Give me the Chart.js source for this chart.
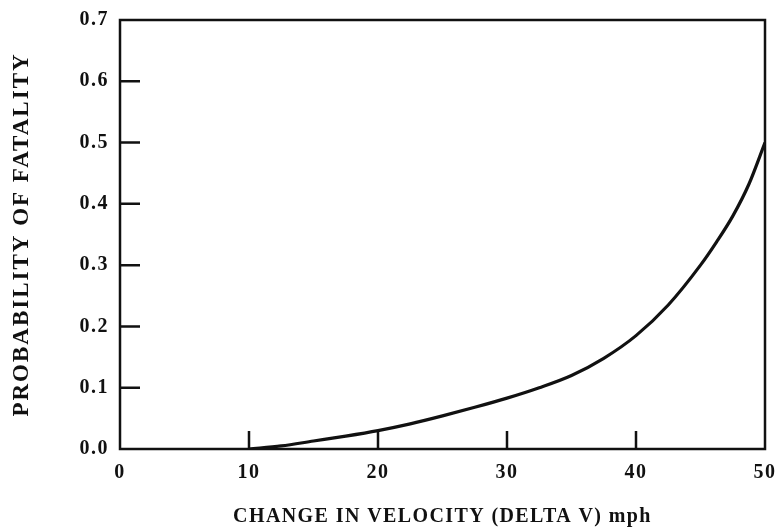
<!DOCTYPE html>
<html>
<head>
<meta charset="utf-8">
<script src="https://cdn.jsdelivr.net/npm/chart.js@4/dist/chart.umd.min.js"></script>
<style>
  html, body { margin: 0; padding: 0; background: #ffffff; }
  #wrap { width: 778px; height: 531px; }
</style>
</head>
<body>
<div id="wrap"><canvas id="c" width="778" height="531"></canvas></div>
<script>
// Change in velocity (delta V, mph) and probability of fatality
const deltaV = [10, 12.5, 15, 17.5, 20, 22.5, 25, 27.5, 30, 32.5, 35, 37.5, 40, 42.5, 45, 46.25, 47.5, 48.75, 50];
const fatality = [0.0, 0.005, 0.013, 0.021, 0.03, 0.041, 0.054, 0.068, 0.083, 0.1, 0.12, 0.148, 0.185, 0.235, 0.30, 0.338, 0.38, 0.432, 0.5];

const xTicks = [0, 10, 20, 30, 40, 50];
const yTicks = [0.0, 0.1, 0.2, 0.3, 0.4, 0.5, 0.6, 0.7];
const xInnerTicks = [10, 20, 30, 40];
const yInnerTicks = [0.1, 0.2, 0.3, 0.4, 0.5, 0.6];

const xTitle = 'CHANGE IN VELOCITY (DELTA V) mph';
const yTitle = 'PROBABILITY OF FATALITY';

const serif = "'Liberation Serif', 'DejaVu Serif', serif";
const labelFont = { family: serif, weight: 'bold', size: 20 };
const xTitleFont = { family: serif, weight: 'bold', size: 20 };
const yTitleFont = { family: serif, weight: 'bold', size: 23 };

const canvas = document.getElementById('c');
const ctx = canvas.getContext('2d');
// spaced-out typewriter-style lettering; the axis titles are spread a bit wider
const titleSpacing = { [xTitle]: '1.4px', [yTitle]: '2px' };
const baseFillText = ctx.fillText.bind(ctx);
ctx.fillText = function (text, x, y, maxWidth) {
  const prev = ctx.letterSpacing;
  ctx.letterSpacing = titleSpacing[text] || '1.5px';
  baseFillText(text, x, y, maxWidth);
  ctx.letterSpacing = prev;
};

// Frame around the plot and tick marks pointing into it
const framePlugin = {
  id: 'frame',
  afterDraw(chart) {
    const { ctx, chartArea: a, scales: { x, y } } = chart;
    ctx.save();
    ctx.strokeStyle = '#111';
    ctx.lineWidth = 2.5;
    ctx.strokeRect(a.left, a.top, a.right - a.left, a.bottom - a.top);
    ctx.beginPath();
    xInnerTicks.forEach(v => {
      const px = x.getPixelForValue(v);
      ctx.moveTo(px, a.bottom);
      ctx.lineTo(px, a.bottom - 18);
    });
    yInnerTicks.forEach(v => {
      const py = y.getPixelForValue(v);
      ctx.moveTo(a.left, py);
      ctx.lineTo(a.left + 20, py);
    });
    ctx.stroke();
    ctx.restore();
  }
};

new Chart(canvas, {
  type: 'line',
  data: {
    datasets: [{
      data: deltaV.map((v, i) => ({ x: v, y: fatality[i] })),
      borderColor: '#111',
      borderWidth: 3.2,
      pointRadius: 0,
      fill: false,
      cubicInterpolationMode: 'monotone'
    }]
  },
  options: {
    responsive: false,
    animation: false,
    layout: { padding: { left: 0, right: 13, top: 20, bottom: 0 } },
    plugins: { legend: { display: false }, tooltip: { enabled: false } },
    scales: {
      x: {
        type: 'linear',
        min: 0, max: 50,
        afterBuildTicks: s => { s.ticks = xTicks.map(v => ({ value: v })); },
        afterFit: s => { s.height = 82; s.paddingLeft = 0; s.paddingRight = 0; },
        grid: { display: false, drawTicks: false },
        border: { display: false },
        ticks: { color: '#111', font: labelFont, padding: 12, maxRotation: 0, callback: v => String(v) },
        title: { display: true, text: xTitle, color: '#111', font: xTitleFont, padding: { top: 4, bottom: 2 } }
      },
      y: {
        type: 'linear',
        min: 0, max: 0.7,
        afterBuildTicks: s => { s.ticks = yTicks.map(v => ({ value: v })); },
        afterFit: s => { s.width = 120; s.paddingTop = 0; s.paddingBottom = 0; },
        grid: { display: false, drawTicks: false },
        border: { display: false },
        ticks: { color: '#111', font: labelFont, padding: 11, callback: v => Number(v).toFixed(1) },
        title: { display: true, text: yTitle, color: '#111', font: yTitleFont, padding: { top: 8, bottom: 4 } }
      }
    }
  },
  plugins: [framePlugin]
});
</script>
</body>
</html>
